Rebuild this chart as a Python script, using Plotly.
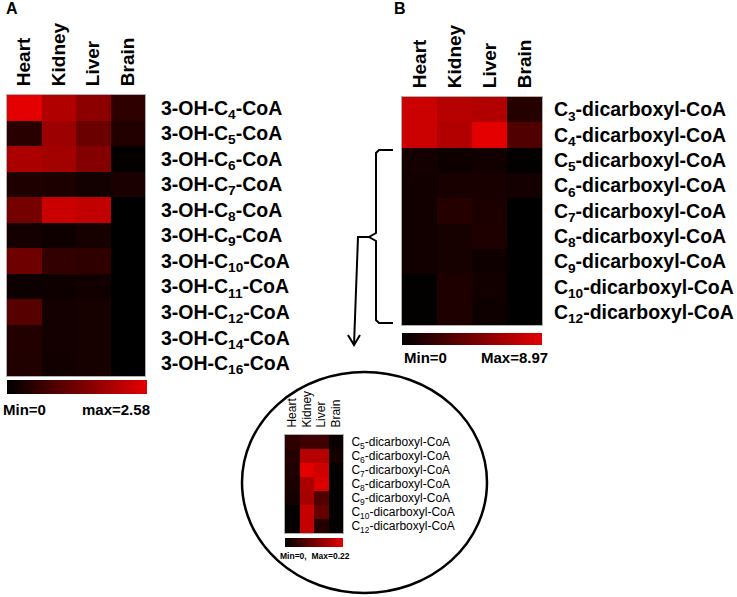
import plotly.graph_objects as go

W, H = 737, 597

# tissues (columns) shared by all three heat maps
tissues = ['Heart', 'Kidney', 'Liver', 'Brain']

# panel A: 3-hydroxy acyl-CoAs, scale 0 .. 2.58
rows_a = ['3-OH-C<sub>4</sub>-CoA', '3-OH-C<sub>5</sub>-CoA', '3-OH-C<sub>6</sub>-CoA',
          '3-OH-C<sub>7</sub>-CoA', '3-OH-C<sub>8</sub>-CoA', '3-OH-C<sub>9</sub>-CoA',
          '3-OH-C<sub>10</sub>-CoA', '3-OH-C<sub>11</sub>-CoA', '3-OH-C<sub>12</sub>-CoA',
          '3-OH-C<sub>14</sub>-CoA', '3-OH-C<sub>16</sub>-CoA']
vals_a = [
    [2.58, 2.00, 1.60, 0.52],
    [0.46, 1.78, 1.20, 0.40],
    [1.95, 1.84, 1.49, 0.05],
    [0.34, 0.32, 0.21, 0.29],
    [1.32, 2.29, 2.18, 0.00],
    [0.23, 0.17, 0.25, 0.00],
    [1.26, 0.57, 0.52, 0.00],
    [0.14, 0.17, 0.20, 0.00],
    [0.97, 0.23, 0.25, 0.00],
    [0.40, 0.23, 0.25, 0.00],
    [0.37, 0.20, 0.25, 0.00],
]
max_a = 2.58

# panel B: dicarboxyl-CoAs, scale 0 .. 8.97
rows_b = ['C<sub>3</sub>-dicarboxyl-CoA', 'C<sub>4</sub>-dicarboxyl-CoA',
          'C<sub>5</sub>-dicarboxyl-CoA', 'C<sub>6</sub>-dicarboxyl-CoA',
          'C<sub>7</sub>-dicarboxyl-CoA', 'C<sub>8</sub>-dicarboxyl-CoA',
          'C<sub>9</sub>-dicarboxyl-CoA', 'C<sub>10</sub>-dicarboxyl-CoA',
          'C<sub>12</sub>-dicarboxyl-CoA']
vals_b = [
    [8.00, 7.20, 7.00, 1.40],
    [8.00, 7.00, 8.97, 3.20],
    [0.80, 0.60, 0.70, 0.10],
    [0.70, 1.00, 1.00, 0.80],
    [0.70, 1.40, 1.10, 0.05],
    [0.70, 0.90, 1.20, 0.05],
    [0.70, 0.90, 0.60, 0.05],
    [0.10, 1.20, 0.70, 0.05],
    [0.10, 1.20, 0.60, 0.05],
]
max_b = 8.97

# inset: C5-C12 dicarboxyl-CoAs rescaled, 0 .. 0.22
rows_c = rows_b[2:]
vals_c = [
    [0.044, 0.060, 0.060, 0.010],
    [0.035, 0.176, 0.176, 0.020],
    [0.030, 0.220, 0.200, 0.005],
    [0.025, 0.166, 0.210, 0.005],
    [0.020, 0.160, 0.078, 0.005],
    [0.005, 0.190, 0.098, 0.005],
    [0.005, 0.190, 0.034, 0.005],
]
max_c = 0.22

cscale = [[0, 'rgb(0,0,0)'], [1, 'rgb(228,0,0)']]


def fx(x):
    return x / W


def fy(y):
    return 1 - y / H


def cbar(x0, y0, length, thick):
    return dict(orientation='h', x=fx(x0), xanchor='left', y=fy(y0), yanchor='top',
                len=length, lenmode='pixels', thickness=thick, thicknessmode='pixels',
                xpad=0, ypad=0, outlinewidth=0, showticklabels=False, ticks='')


fig = go.Figure()
fig.add_trace(go.Heatmap(z=vals_a, x=tissues, y=rows_a, zmin=0, zmax=max_a,
                         colorscale=cscale, xaxis='x', yaxis='y',
                         colorbar=cbar(7, 380, 140, 14)))
fig.add_trace(go.Heatmap(z=vals_b, x=tissues, y=rows_b, zmin=0, zmax=max_b,
                         colorscale=cscale, xaxis='x2', yaxis='y2',
                         colorbar=cbar(402, 333, 140, 12)))
fig.add_trace(go.Heatmap(z=vals_c, x=tissues, y=rows_c, zmin=0, zmax=max_c,
                         colorscale=cscale, xaxis='x3', yaxis='y3',
                         colorbar=cbar(285, 538, 58, 9)))

bold_big = dict(family='Arial', size=19, color='black', weight='bold')
bold_row = dict(family='Arial', size=19.5, color='black', weight='bold')
small_col = dict(family='Arial', size=12, color='black')
small_row = dict(family='Arial', size=12, color='black')


def xax(dom, font, anchor):
    return dict(domain=[fx(dom[0]), fx(dom[1])], side='top', tickangle=-90, ticks='',
                tickfont=font, anchor=anchor, showgrid=False, zeroline=False,
                automargin=False, showline=True, mirror=True, linecolor='#b0b0b0',
                linewidth=1, ticklabelstandoff=4, fixedrange=True)


def yax(dom, font, anchor, standoff):
    return dict(domain=[fy(dom[1]), fy(dom[0])], side='right', autorange='reversed',
                ticks='', tickfont=font, anchor=anchor, showgrid=False, zeroline=False,
                automargin=False, showline=True, mirror=True, linecolor='#b0b0b0',
                linewidth=1, ticklabelstandoff=standoff, fixedrange=True)


def line_path(points):
    return 'M ' + ' L '.join(f'{fx(x):.5f} {fy(y):.5f}' for x, y in points)


shapes = [
    # brace grouping C5-C12 in panel B
    dict(type='path', xref='paper', yref='paper', line=dict(color='black', width=2),
         path=line_path([(393, 150), (379, 150), (376, 153), (376, 233), (369, 237),
                         (376, 241), (376, 320), (379, 323), (393, 323)])),
    # arrow down to the inset
    dict(type='path', xref='paper', yref='paper', line=dict(color='black', width=2),
         path=line_path([(369, 237), (358, 237), (354, 345)])),
    dict(type='path', xref='paper', yref='paper', line=dict(color='black', width=2),
         path=line_path([(348, 335), (354, 345), (360, 335)])),
    # inset ellipse
    dict(type='circle', xref='paper', yref='paper', line=dict(color='black', width=2.5),
         x0=fx(242), x1=fx(487), y0=fy(593), y1=fy(372)),
]

ann_font = dict(family='Arial', size=15, color='black', weight='bold')
annotations = [
    dict(text='A', x=fx(4), y=fy(9), xanchor='left', yanchor='middle',
         font=dict(family='Arial', size=16, color='black', weight='bold')),
    dict(text='B', x=fx(392), y=fy(9), xanchor='left', yanchor='middle',
         font=dict(family='Arial', size=16, color='black', weight='bold')),
    dict(text='Min=0', x=fx(1), y=fy(409), xanchor='left', yanchor='middle', font=ann_font),
    dict(text=f'max={max_a}', x=fx(152), y=fy(409), xanchor='right', yanchor='middle', font=ann_font),
    dict(text='Min=0', x=fx(402), y=fy(357), xanchor='left', yanchor='middle', font=ann_font),
    dict(text=f'Max={max_b}', x=fx(550), y=fy(357), xanchor='right', yanchor='middle', font=ann_font),
    dict(text=f'Min=0,  Max={max_c}', x=fx(315), y=fy(556), xanchor='center', yanchor='middle',
         font=dict(family='Arial', size=8.5, color='black', weight='bold')),
]
for a in annotations:
    a.update(xref='paper', yref='paper', showarrow=False)

fig.update_layout(
    width=W, height=H,
    margin=dict(l=0, r=0, t=0, b=0),
    template='none',
    paper_bgcolor='white', plot_bgcolor='white',
    xaxis=xax((7, 145), bold_big, 'y'),
    yaxis=yax((95, 376), bold_row, 'x', 11),
    xaxis2=xax((402, 542), bold_big, 'y2'),
    yaxis2=yax((97, 325), bold_row, 'x2', 7),
    xaxis3=xax((285, 343), small_col, 'y3'),
    yaxis3=yax((435, 533), small_row, 'x3', 5),
    shapes=shapes,
    annotations=annotations,
    showlegend=False,
)

# drop the browser's default page margin so the figure sits at the window corner
fig.write_html('out.html', config={'displayModeBar': False},
               post_script="document.body.style.margin='0px';")
